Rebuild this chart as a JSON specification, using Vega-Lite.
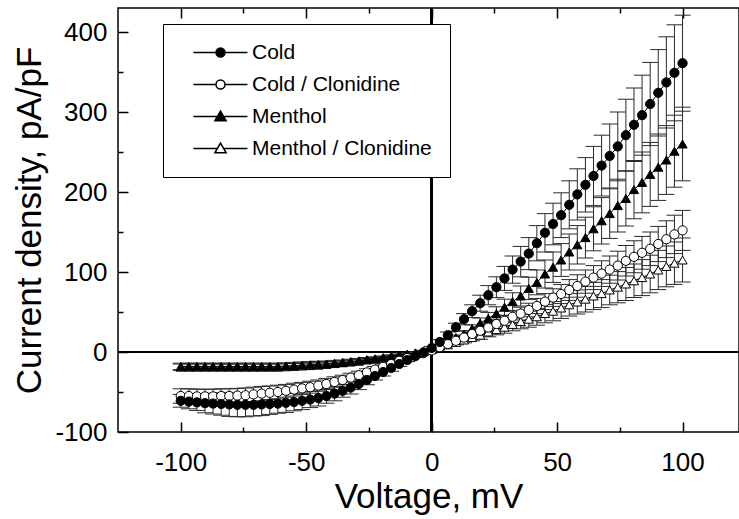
{
"$schema":"https://vega.github.io/schema/vega-lite/v6.json",
"width":621,"height":424,
"autosize":{"type":"none"},
"padding":{"left":118,"top":8,"right":0,"bottom":87},
"background":"white",
"config":{
"view":{"stroke":"black","strokeWidth":1.5},
"axis":{"domain":false,"grid":false,"tickColor":"black","tickWidth":1.5,"labelFont":"Liberation Sans","labelFontSize":26,"labelColor":"black","titleFont":"Liberation Sans","titleFontSize":35,"titleFontWeight":"normal","titleColor":"black","labelExpr":"replace(datum.label,'\u2212','-')"},
"legend":{"orient":"none","legendX":45,"legendY":16,"title":null,"strokeColor":"black","strokeWidth":1,"fillColor":"white","padding":18,"rowPadding":10,"labelFontSize":21,"labelFont":"Liberation Sans","labelColor":"black","labelLimit":400,"symbolSize":81,"symbolOffset":29,"labelOffset":21}
},
"data":{"values":[
{"s":"Cold","v":-100,"i":-61,"e":8},{"s":"Cold","v":-96.77,"i":-62,"e":9},{"s":"Cold","v":-93.55,"i":-63,"e":10},{"s":"Cold","v":-90.32,"i":-64,"e":12},{"s":"Cold","v":-87.1,"i":-64.5,"e":13},{"s":"Cold","v":-83.87,"i":-65,"e":14},{"s":"Cold","v":-80.65,"i":-65.5,"e":15},{"s":"Cold","v":-77.42,"i":-66,"e":15},{"s":"Cold","v":-74.19,"i":-66,"e":15},{"s":"Cold","v":-70.97,"i":-66,"e":14},{"s":"Cold","v":-67.74,"i":-65.5,"e":14},{"s":"Cold","v":-64.52,"i":-65,"e":13},{"s":"Cold","v":-61.29,"i":-64.5,"e":12},{"s":"Cold","v":-58.06,"i":-63.5,"e":12},{"s":"Cold","v":-54.84,"i":-62.5,"e":11},{"s":"Cold","v":-51.61,"i":-61,"e":11},{"s":"Cold","v":-48.39,"i":-59.5,"e":10},{"s":"Cold","v":-45.16,"i":-57.5,"e":10},{"s":"Cold","v":-41.94,"i":-55,"e":9},{"s":"Cold","v":-38.71,"i":-52,"e":9},{"s":"Cold","v":-35.48,"i":-48.5,"e":8},{"s":"Cold","v":-32.26,"i":-44.5,"e":8},{"s":"Cold","v":-29.03,"i":-40,"e":7},{"s":"Cold","v":-25.81,"i":-35,"e":6},{"s":"Cold","v":-22.58,"i":-30,"e":5},{"s":"Cold","v":-19.35,"i":-25,"e":5},{"s":"Cold","v":-16.13,"i":-20,"e":4},{"s":"Cold","v":-12.9,"i":-15,"e":3},{"s":"Cold","v":-9.68,"i":-10,"e":2},{"s":"Cold","v":-6.45,"i":-5,"e":2},{"s":"Cold","v":-3.23,"i":-0.5,"e":1},{"s":"Cold","v":0,"i":5,"e":2},{"s":"Cold","v":3.23,"i":12.5,"e":3},{"s":"Cold","v":6.45,"i":21,"e":4},{"s":"Cold","v":9.68,"i":31,"e":5},{"s":"Cold","v":12.9,"i":41,"e":7},{"s":"Cold","v":16.13,"i":51,"e":8},{"s":"Cold","v":19.35,"i":61,"e":10},{"s":"Cold","v":22.58,"i":71,"e":12},{"s":"Cold","v":25.81,"i":81,"e":13},{"s":"Cold","v":29.03,"i":92,"e":15},{"s":"Cold","v":32.26,"i":103,"e":17},{"s":"Cold","v":35.48,"i":113,"e":19},{"s":"Cold","v":38.71,"i":123,"e":20},{"s":"Cold","v":41.94,"i":136,"e":22},{"s":"Cold","v":45.16,"i":149,"e":24},{"s":"Cold","v":48.39,"i":160,"e":26},{"s":"Cold","v":51.61,"i":171,"e":28},{"s":"Cold","v":54.84,"i":184,"e":30},{"s":"Cold","v":58.06,"i":197,"e":32},{"s":"Cold","v":61.29,"i":209,"e":34},{"s":"Cold","v":64.52,"i":220,"e":37},{"s":"Cold","v":67.74,"i":233,"e":38},{"s":"Cold","v":70.97,"i":245,"e":40},{"s":"Cold","v":74.19,"i":257,"e":43},{"s":"Cold","v":77.42,"i":271,"e":45},{"s":"Cold","v":80.65,"i":284,"e":46},{"s":"Cold","v":83.87,"i":296,"e":50},{"s":"Cold","v":87.1,"i":310,"e":52},{"s":"Cold","v":90.32,"i":324,"e":54},{"s":"Cold","v":93.55,"i":337,"e":57},{"s":"Cold","v":96.77,"i":349,"e":60},{"s":"Cold","v":100,"i":361,"e":60},
{"s":"Cold / Clonidine","v":-100,"i":-55,"e":9},{"s":"Cold / Clonidine","v":-96.77,"i":-55,"e":9},{"s":"Cold / Clonidine","v":-93.55,"i":-55.5,"e":9},{"s":"Cold / Clonidine","v":-90.32,"i":-55.5,"e":9},{"s":"Cold / Clonidine","v":-87.1,"i":-55.5,"e":9},{"s":"Cold / Clonidine","v":-83.87,"i":-55,"e":9},{"s":"Cold / Clonidine","v":-80.65,"i":-55,"e":9},{"s":"Cold / Clonidine","v":-77.42,"i":-54.5,"e":9},{"s":"Cold / Clonidine","v":-74.19,"i":-54,"e":9},{"s":"Cold / Clonidine","v":-70.97,"i":-53,"e":9},{"s":"Cold / Clonidine","v":-67.74,"i":-52,"e":9},{"s":"Cold / Clonidine","v":-64.52,"i":-51,"e":8.5},{"s":"Cold / Clonidine","v":-61.29,"i":-50,"e":8.5},{"s":"Cold / Clonidine","v":-58.06,"i":-48.5,"e":8},{"s":"Cold / Clonidine","v":-54.84,"i":-47,"e":8},{"s":"Cold / Clonidine","v":-51.61,"i":-45.5,"e":7.5},{"s":"Cold / Clonidine","v":-48.39,"i":-44,"e":7.5},{"s":"Cold / Clonidine","v":-45.16,"i":-42,"e":7},{"s":"Cold / Clonidine","v":-41.94,"i":-40,"e":7},{"s":"Cold / Clonidine","v":-38.71,"i":-37.5,"e":6.5},{"s":"Cold / Clonidine","v":-35.48,"i":-35,"e":6},{"s":"Cold / Clonidine","v":-32.26,"i":-32,"e":5.5},{"s":"Cold / Clonidine","v":-29.03,"i":-29,"e":5},{"s":"Cold / Clonidine","v":-25.81,"i":-25.5,"e":4.5},{"s":"Cold / Clonidine","v":-22.58,"i":-22,"e":4},{"s":"Cold / Clonidine","v":-19.35,"i":-18.5,"e":3.5},{"s":"Cold / Clonidine","v":-16.13,"i":-15,"e":3},{"s":"Cold / Clonidine","v":-12.9,"i":-11,"e":2.5},{"s":"Cold / Clonidine","v":-9.68,"i":-7.5,"e":2},{"s":"Cold / Clonidine","v":-6.45,"i":-4.5,"e":1.5},{"s":"Cold / Clonidine","v":-3.23,"i":-1.5,"e":1},{"s":"Cold / Clonidine","v":0,"i":2,"e":1},{"s":"Cold / Clonidine","v":3.23,"i":6,"e":1.5},{"s":"Cold / Clonidine","v":6.45,"i":10,"e":2},{"s":"Cold / Clonidine","v":9.68,"i":14,"e":2.5},{"s":"Cold / Clonidine","v":12.9,"i":18,"e":3},{"s":"Cold / Clonidine","v":16.13,"i":22.5,"e":4},{"s":"Cold / Clonidine","v":19.35,"i":26.5,"e":4.5},{"s":"Cold / Clonidine","v":22.58,"i":30.5,"e":5},{"s":"Cold / Clonidine","v":25.81,"i":35,"e":6},{"s":"Cold / Clonidine","v":29.03,"i":39,"e":6.5},{"s":"Cold / Clonidine","v":32.26,"i":44,"e":7},{"s":"Cold / Clonidine","v":35.48,"i":48,"e":8},{"s":"Cold / Clonidine","v":38.71,"i":52.5,"e":8.5},{"s":"Cold / Clonidine","v":41.94,"i":57.5,"e":9.5},{"s":"Cold / Clonidine","v":45.16,"i":63,"e":10},{"s":"Cold / Clonidine","v":48.39,"i":68,"e":11},{"s":"Cold / Clonidine","v":51.61,"i":72.5,"e":12},{"s":"Cold / Clonidine","v":54.84,"i":77.5,"e":13},{"s":"Cold / Clonidine","v":58.06,"i":82.5,"e":14},{"s":"Cold / Clonidine","v":61.29,"i":88,"e":14.5},{"s":"Cold / Clonidine","v":64.52,"i":93,"e":15},{"s":"Cold / Clonidine","v":67.74,"i":98,"e":16},{"s":"Cold / Clonidine","v":70.97,"i":103,"e":17},{"s":"Cold / Clonidine","v":74.19,"i":108,"e":18},{"s":"Cold / Clonidine","v":77.42,"i":114,"e":19},{"s":"Cold / Clonidine","v":80.65,"i":119,"e":20},{"s":"Cold / Clonidine","v":83.87,"i":124,"e":20.5},{"s":"Cold / Clonidine","v":87.1,"i":129,"e":21},{"s":"Cold / Clonidine","v":90.32,"i":135,"e":22},{"s":"Cold / Clonidine","v":93.55,"i":141,"e":23},{"s":"Cold / Clonidine","v":96.77,"i":147,"e":24},{"s":"Cold / Clonidine","v":100,"i":152,"e":25},
{"s":"Menthol","v":-100,"i":-18,"e":4},{"s":"Menthol","v":-96.77,"i":-18,"e":4},{"s":"Menthol","v":-93.55,"i":-18,"e":4},{"s":"Menthol","v":-90.32,"i":-18,"e":4},{"s":"Menthol","v":-87.1,"i":-18,"e":4},{"s":"Menthol","v":-83.87,"i":-18,"e":4},{"s":"Menthol","v":-80.65,"i":-18,"e":4},{"s":"Menthol","v":-77.42,"i":-18,"e":4},{"s":"Menthol","v":-74.19,"i":-18,"e":4},{"s":"Menthol","v":-70.97,"i":-18,"e":4},{"s":"Menthol","v":-67.74,"i":-18,"e":4},{"s":"Menthol","v":-64.52,"i":-18,"e":4},{"s":"Menthol","v":-61.29,"i":-18,"e":4},{"s":"Menthol","v":-58.06,"i":-17.5,"e":4},{"s":"Menthol","v":-54.84,"i":-17,"e":4},{"s":"Menthol","v":-51.61,"i":-16.5,"e":4},{"s":"Menthol","v":-48.39,"i":-16,"e":4},{"s":"Menthol","v":-45.16,"i":-15.5,"e":4},{"s":"Menthol","v":-41.94,"i":-15,"e":3.5},{"s":"Menthol","v":-38.71,"i":-14,"e":3.5},{"s":"Menthol","v":-35.48,"i":-13,"e":3},{"s":"Menthol","v":-32.26,"i":-12,"e":3},{"s":"Menthol","v":-29.03,"i":-11,"e":3},{"s":"Menthol","v":-25.81,"i":-9.5,"e":2.5},{"s":"Menthol","v":-22.58,"i":-8.5,"e":2.5},{"s":"Menthol","v":-19.35,"i":-7,"e":2},{"s":"Menthol","v":-16.13,"i":-5.5,"e":2},{"s":"Menthol","v":-12.9,"i":-4,"e":1.5},{"s":"Menthol","v":-9.68,"i":-2.5,"e":1.5},{"s":"Menthol","v":-6.45,"i":-1,"e":1},{"s":"Menthol","v":-3.23,"i":1,"e":1},{"s":"Menthol","v":0,"i":3,"e":1},{"s":"Menthol","v":3.23,"i":8,"e":1.5},{"s":"Menthol","v":6.45,"i":13,"e":2.5},{"s":"Menthol","v":9.68,"i":18,"e":3},{"s":"Menthol","v":12.9,"i":22.5,"e":4},{"s":"Menthol","v":16.13,"i":29,"e":5},{"s":"Menthol","v":19.35,"i":36,"e":6.5},{"s":"Menthol","v":22.58,"i":42,"e":7.5},{"s":"Menthol","v":25.81,"i":48,"e":8.5},{"s":"Menthol","v":29.03,"i":56,"e":10},{"s":"Menthol","v":32.26,"i":63,"e":11},{"s":"Menthol","v":35.48,"i":70,"e":12.5},{"s":"Menthol","v":38.71,"i":79.5,"e":14},{"s":"Menthol","v":41.94,"i":87,"e":15.5},{"s":"Menthol","v":45.16,"i":97.5,"e":17.5},{"s":"Menthol","v":48.39,"i":106,"e":19},{"s":"Menthol","v":51.61,"i":115,"e":20.5},{"s":"Menthol","v":54.84,"i":125,"e":22.5},{"s":"Menthol","v":58.06,"i":134,"e":24},{"s":"Menthol","v":61.29,"i":143,"e":25.5},{"s":"Menthol","v":64.52,"i":154,"e":27.5},{"s":"Menthol","v":67.74,"i":164,"e":29},{"s":"Menthol","v":70.97,"i":173,"e":31},{"s":"Menthol","v":74.19,"i":183,"e":33},{"s":"Menthol","v":77.42,"i":192,"e":34.5},{"s":"Menthol","v":80.65,"i":203,"e":36.5},{"s":"Menthol","v":83.87,"i":212,"e":38},{"s":"Menthol","v":87.1,"i":222,"e":40},{"s":"Menthol","v":90.32,"i":231,"e":41.5},{"s":"Menthol","v":93.55,"i":240,"e":43},{"s":"Menthol","v":96.77,"i":251,"e":45},{"s":"Menthol","v":100,"i":260,"e":46},
{"s":"Menthol / Clonidine","v":-100,"i":-19,"e":4},{"s":"Menthol / Clonidine","v":-96.77,"i":-19,"e":4},{"s":"Menthol / Clonidine","v":-93.55,"i":-19,"e":4},{"s":"Menthol / Clonidine","v":-90.32,"i":-19,"e":4},{"s":"Menthol / Clonidine","v":-87.1,"i":-19,"e":4},{"s":"Menthol / Clonidine","v":-83.87,"i":-19,"e":4},{"s":"Menthol / Clonidine","v":-80.65,"i":-19,"e":4},{"s":"Menthol / Clonidine","v":-77.42,"i":-19,"e":4},{"s":"Menthol / Clonidine","v":-74.19,"i":-19,"e":4},{"s":"Menthol / Clonidine","v":-70.97,"i":-19,"e":4},{"s":"Menthol / Clonidine","v":-67.74,"i":-19,"e":4},{"s":"Menthol / Clonidine","v":-64.52,"i":-19,"e":4},{"s":"Menthol / Clonidine","v":-61.29,"i":-19,"e":4},{"s":"Menthol / Clonidine","v":-58.06,"i":-18.5,"e":4},{"s":"Menthol / Clonidine","v":-54.84,"i":-18,"e":3.5},{"s":"Menthol / Clonidine","v":-51.61,"i":-17.5,"e":3.5},{"s":"Menthol / Clonidine","v":-48.39,"i":-17,"e":3.5},{"s":"Menthol / Clonidine","v":-45.16,"i":-16.5,"e":3},{"s":"Menthol / Clonidine","v":-41.94,"i":-15.5,"e":3},{"s":"Menthol / Clonidine","v":-38.71,"i":-14.5,"e":3},{"s":"Menthol / Clonidine","v":-35.48,"i":-13.5,"e":2.5},{"s":"Menthol / Clonidine","v":-32.26,"i":-12.5,"e":2.5},{"s":"Menthol / Clonidine","v":-29.03,"i":-11.5,"e":2.5},{"s":"Menthol / Clonidine","v":-25.81,"i":-10,"e":2},{"s":"Menthol / Clonidine","v":-22.58,"i":-9,"e":2},{"s":"Menthol / Clonidine","v":-19.35,"i":-7.5,"e":2},{"s":"Menthol / Clonidine","v":-16.13,"i":-6,"e":1.5},{"s":"Menthol / Clonidine","v":-12.9,"i":-4.5,"e":1.5},{"s":"Menthol / Clonidine","v":-9.68,"i":-3,"e":1},{"s":"Menthol / Clonidine","v":-6.45,"i":-1.5,"e":1},{"s":"Menthol / Clonidine","v":-3.23,"i":0.5,"e":1},{"s":"Menthol / Clonidine","v":0,"i":3,"e":1},{"s":"Menthol / Clonidine","v":3.23,"i":6,"e":1.5},{"s":"Menthol / Clonidine","v":6.45,"i":9,"e":2},{"s":"Menthol / Clonidine","v":9.68,"i":12,"e":3},{"s":"Menthol / Clonidine","v":12.9,"i":15,"e":3.5},{"s":"Menthol / Clonidine","v":16.13,"i":18,"e":4},{"s":"Menthol / Clonidine","v":19.35,"i":21,"e":5},{"s":"Menthol / Clonidine","v":22.58,"i":25,"e":6},{"s":"Menthol / Clonidine","v":25.81,"i":28,"e":6.5},{"s":"Menthol / Clonidine","v":29.03,"i":31,"e":7.5},{"s":"Menthol / Clonidine","v":32.26,"i":34.5,"e":8},{"s":"Menthol / Clonidine","v":35.48,"i":38,"e":9},{"s":"Menthol / Clonidine","v":38.71,"i":41,"e":10},{"s":"Menthol / Clonidine","v":41.94,"i":44,"e":10.5},{"s":"Menthol / Clonidine","v":45.16,"i":48,"e":11.5},{"s":"Menthol / Clonidine","v":48.39,"i":51,"e":12},{"s":"Menthol / Clonidine","v":51.61,"i":55,"e":13},{"s":"Menthol / Clonidine","v":54.84,"i":59,"e":14},{"s":"Menthol / Clonidine","v":58.06,"i":62.5,"e":15},{"s":"Menthol / Clonidine","v":61.29,"i":66,"e":16},{"s":"Menthol / Clonidine","v":64.52,"i":70,"e":17},{"s":"Menthol / Clonidine","v":67.74,"i":73,"e":17.5},{"s":"Menthol / Clonidine","v":70.97,"i":77.5,"e":18.5},{"s":"Menthol / Clonidine","v":74.19,"i":81,"e":19.5},{"s":"Menthol / Clonidine","v":77.42,"i":85,"e":20.5},{"s":"Menthol / Clonidine","v":80.65,"i":89,"e":21},{"s":"Menthol / Clonidine","v":83.87,"i":93,"e":22.5},{"s":"Menthol / Clonidine","v":87.1,"i":97.5,"e":23.5},{"s":"Menthol / Clonidine","v":90.32,"i":102.5,"e":24.5},{"s":"Menthol / Clonidine","v":93.55,"i":107,"e":25.5},{"s":"Menthol / Clonidine","v":96.77,"i":111,"e":26.5},{"s":"Menthol / Clonidine","v":100,"i":115,"e":27.5}
]},
"layer":[
{"mark":{"type":"rule","color":"black","strokeWidth":2},
 "encoding":{"y":{"datum":0,"type":"quantitative","scale":{"domain":[-100,430],"nice":false,"zero":false},"axis":{"orient":"left","values":[-50,50,150,250,350],"tickSize":-5,"labels":false,"title":null}}}},
{"mark":{"type":"rule","color":"black","strokeWidth":2},
 "encoding":{"x":{"datum":0,"type":"quantitative","scale":{"domain":[-125,122.5],"nice":false,"zero":false},"axis":{"orient":"bottom","values":[-75,-25,25,75],"tickSize":-5,"labels":false,"title":null}}}},
{"mark":{"type":"errorbar","color":"#2a2a2a","opacity":1,"thickness":1,"size":16,"ticks":true},
 "encoding":{
  "x":{"field":"v","type":"quantitative","scale":{"domain":[-125,122.5],"nice":false,"zero":false},"axis":{"orient":"bottom","values":[-100,-50,0,50,100],"tickSize":-10,"labelPadding":27,"title":"Voltage, mV","titlePadding":4}},
  "y":{"field":"i","type":"quantitative","scale":{"domain":[-100,430],"nice":false,"zero":false},"axis":{"orient":"left","values":[-100,0,100,200,300,400],"tickSize":-10,"labelPadding":21,"title":"Current density, pA/pF","titlePadding":7}},
  "yError":{"field":"e"}}},
{"mark":{"type":"line","color":"black","strokeWidth":1},
 "encoding":{
  "x":{"field":"v","type":"quantitative","scale":{"domain":[-125,122.5],"nice":false,"zero":false},"axis":{"orient":"top","values":[-100,-50,0,50,100],"tickSize":-10,"labels":false,"title":null}},
  "y":{"field":"i","type":"quantitative","scale":{"domain":[-100,430],"nice":false,"zero":false},"axis":null},
  "detail":{"field":"s"}}},
{"mark":{"type":"point","filled":true,"stroke":"black","strokeWidth":1,"opacity":1},
 "encoding":{
  "x":{"field":"v","type":"quantitative","scale":{"domain":[-125,122.5],"nice":false,"zero":false},"axis":{"orient":"top","values":[-75,-25,25,75],"tickSize":-5,"labels":false,"title":null}},
  "y":{"field":"i","type":"quantitative","scale":{"domain":[-100,430],"nice":false,"zero":false},"axis":null},
  "order":{"field":"s","type":"ordinal","sort":"descending"},
  "size":{"field":"s","type":"nominal","scale":{"domain":["Cold","Cold / Clonidine","Menthol","Menthol / Clonidine"],"range":[85,85,105,105]},"legend":null},
  "fill":{"field":"s","type":"nominal","scale":{"domain":["Cold","Cold / Clonidine","Menthol","Menthol / Clonidine"],"range":["black","white","black","white"]},"legend":null},
  "shape":{"field":"s","type":"nominal","scale":{"domain":["Cold","Cold / Clonidine","Menthol","Menthol / Clonidine"],"range":["circle","circle","triangle-up","triangle-up"]},"legend":null}}},
{"transform":[{"filter":"false"}],
 "mark":{"type":"point","filled":true,"opacity":1,"stroke":"black","strokeWidth":1},
 "encoding":{
  "x":{"field":"v","type":"quantitative","scale":{"domain":[-125,122.5],"nice":false,"zero":false},"axis":null},
  "y":{"field":"i","type":"quantitative","scale":{"domain":[-100,430],"nice":false,"zero":false},"axis":null},
  "fill":{"field":"s","type":"nominal","scale":{"domain":["Cold","Cold / Clonidine","Menthol","Menthol / Clonidine"],"range":["black","white","black","white"]},"legend":{"labelExpr":"datum.label + '\u2002\u2005'","encode":{"symbols":{"update":{"stroke":{"value":"black"},"strokeWidth":{"value":1},"opacity":{"value":1}}}}}},
  "shape":{"field":"s","type":"nominal","scale":{"domain":["Cold","Cold / Clonidine","Menthol","Menthol / Clonidine"],"range":["M-6,0H-1M1,0H6M1,0A1,1,0,1,1,-1,0A1,1,0,1,1,1,0Z","M-6,0H-1M1,0H6M1,0A1,1,0,1,1,-1,0A1,1,0,1,1,1,0Z","M-6,0H-0.7M0.7,0H6M0,-1.2L1.25,0.95L-1.25,0.95Z","M-6,0H-0.7M0.7,0H6M0,-1.2L1.25,0.95L-1.25,0.95Z"]},"legend":{"labelExpr":"datum.label + '\u2002\u2005'","encode":{"symbols":{"update":{"stroke":{"value":"black"},"strokeWidth":{"value":1},"opacity":{"value":1}}}}}}}}
],
"resolve":{"axis":{"x":"independent","y":"independent"},"scale":{"shape":"independent","fill":"independent","size":"independent"}}
}
